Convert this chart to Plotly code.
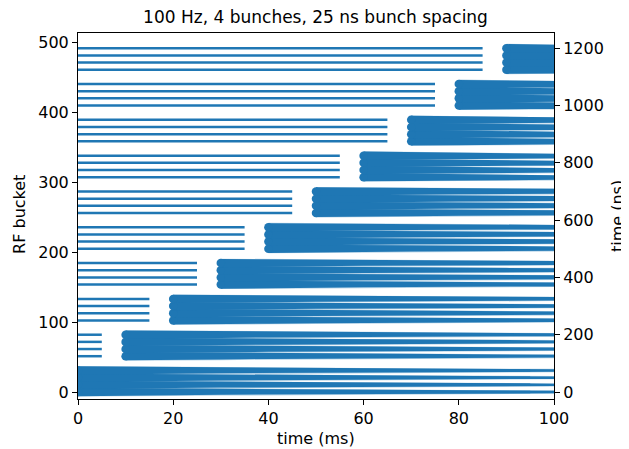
import plotly.graph_objects as go

# ---- data ----
injection_ms = [0, 10, 20, 30, 40, 50, 60, 70, 80, 90]          # when each batch is injected
batch_start_ns = [0, 125, 250, 375, 500, 625, 750, 875, 1000, 1125]  # first bunch of each batch
bunch_offsets_ns = [0, 25, 50, 75]                                # 4 bunches, 25 ns spacing
previous_cycle_end_ms = [95, 5, 15, 25, 35, 45, 55, 65, 75, 85]   # end of the stored (damped) bunch from previous cycle

age_ms = [0, 5, 10, 15, 20, 30, 40, 50, 60, 80, 100]
core_half_ns = [14.5, 14.0, 13.4, 12.4, 11.3, 9.6, 8.4, 7.4, 6.6, 5.0, 4.2]
halo_half_ns = [15.5, 15.2, 14.8, 14.3, 13.7, 12.5, 11.3, 10.2, 9.2, 7.0, 5.8]

x_ticks = [0, 20, 40, 60, 80, 100]
rf_ticks = [0, 100, 200, 300, 400, 500]
ns_ticks = [0, 200, 400, 600, 800, 1000, 1200]

BLUE = "#1f77b4"
FONT = "DejaVu Sans"
FS = 16

fig = go.Figure()

# invisible trace to anchor the left (RF bucket) axis
fig.add_trace(go.Scatter(x=[None], y=[None], yaxis="y", showlegend=False, hoverinfo="skip"))


def band(xs, center, halves, color):
    up = [center + h for h in halves]
    lo = [center - h for h in halves]
    return go.Scatter(x=xs + xs[::-1], y=up + lo[::-1], mode="lines", fill="toself",
                      fillcolor=color, line=dict(width=0), yaxis="y2",
                      showlegend=False, hoverinfo="skip")


for t0, base, t_end in zip(injection_ms, batch_start_ns, previous_cycle_end_ms):
    for off in bunch_offsets_ns:
        c = base + off
        # stored bunch from previous cycle: thin line
        fig.add_trace(go.Scatter(
            x=[0, t_end], y=[c, c], mode="lines", yaxis="y2",
            line=dict(color=BLUE, width=2.5), showlegend=False, hoverinfo="skip"))
    for off in bunch_offsets_ns:
        c = base + off
        xs = [t0 + a for a in age_ms]
        fig.add_trace(band(xs, c, halo_half_ns, "rgba(31,119,180,0.35)"))
    for off in bunch_offsets_ns:
        c = base + off
        xs = [t0 + a for a in age_ms]
        # injected bunch: band whose thickness damps with time
        fig.add_trace(band(xs, c, core_half_ns, BLUE))
        fig.add_trace(go.Scatter(
            x=[t0], y=[c], mode="markers", yaxis="y2",
            marker=dict(color=BLUE, size=8.5, line=dict(width=0)),
            showlegend=False, hoverinfo="skip"))

axis_common = dict(
    showline=True, linecolor="black", linewidth=1, ticks="outside", ticklen=5,
    tickwidth=1, tickcolor="black", showgrid=False, zeroline=False, automargin=False,
    tickfont=dict(family=FONT, size=FS, color="black"),
)

lab = dict(family=FONT, size=FS, color="black")

fig.update_layout(
    width=629, height=449, autosize=False,
    margin=dict(l=70, r=83, t=25, b=57.7),
    plot_bgcolor="white", paper_bgcolor="white",
    title=dict(text="100 Hz, 4 bunches, 25 ns bunch spacing", x=0.499, xref="paper",
               xanchor="center", y=1 - 9.5 / 449, yanchor="middle", yref="container",
               font=dict(family=FONT, size=17, color="black")),
    xaxis=dict(range=[0, 100], tickvals=x_ticks, mirror=True, **axis_common),
    yaxis=dict(range=[-10, 513.3], tickvals=rf_ticks, **axis_common),
    yaxis2=dict(range=[-24.4, 1253.2], tickvals=ns_ticks, overlaying="y", side="right",
                **axis_common),
    annotations=[
        dict(text="time (ms)", x=0.5, y=-0.108, xref="paper", yref="paper",
             xanchor="center", yanchor="middle", showarrow=False, font=lab),
        dict(text="RF bucket", x=-0.1218, y=0.503, xref="paper", yref="paper",
             xanchor="center", yanchor="middle", showarrow=False, textangle=-90, font=lab),
        dict(text="time (ns)", x=1.1325, y=0.5, xref="paper", yref="paper",
             xanchor="center", yanchor="middle", showarrow=False, textangle=-90, font=lab),
    ],
)

fig.write_html("out.html")
